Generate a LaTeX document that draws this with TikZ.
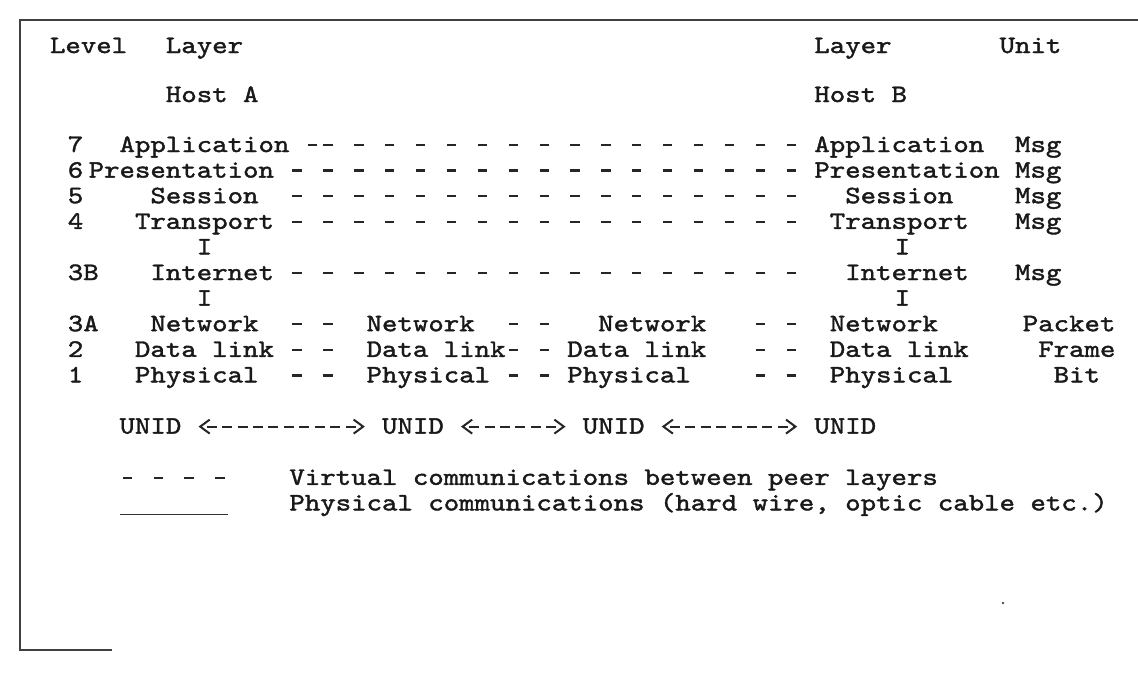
\documentclass[tikz,border=0pt]{standalone}
\usepackage{fontspec}
\usetikzlibrary{arrows.meta}
\newfontfamily\tw[FakeStretch=1.1764,FakeBold=1.6]{lmmono10-regular.otf}
\def\C#1{57.8+15.44*(#1)}
\begin{document}
\begin{tikzpicture}[x=1pt,y=-1pt,
  tt/.style={anchor=base west,inner sep=0pt,outer sep=0pt,text=black!90,font=\tw\fontsize{25pt}{25pt}\selectfont},
  vdash/.style={line width=2.4pt,draw=black!85,dash pattern=on 9.26pt off 21.62pt},
  ubarb/.tip={Straight Barb[length=9.5pt,width=14pt,line width=2pt]},
  uarrow/.style={line width=2pt,draw=black!85,dash pattern=on 10pt off 5.44pt,dash phase=10pt,{ubarb}-{ubarb},shorten <=17.2pt,shorten >=17.2pt},
  frame/.style={line width=1.5pt,draw=black!75}]
\useasboundingbox (0,0) rectangle (1138,673);
% frame
\draw[frame] (1138,20) -- (20,20) -- (20,650) -- (112,650);
\fill[black!70] (1003,603) circle (1.4pt);
% header
\node[tt] (lvl)   at (50,53) {Level};
\node[tt] (layA)  at ({\C{7}},53) {Layer};
\node[tt] (layB)  at ({\C{49}},53) {Layer};
\node[tt] (unit)  at ({\C{61}},53) {Unit};
\node[tt] (hostA) at ({\C{7}},102) {Host A};
\node[tt] (hostB) at ({\C{49}},102) {Host B};
% row 7
\node[tt] (n7) at ({\C{0.65}},152) {7};
\node[tt] (a7) at ({\C{4}},152) {Application};
\node[tt] (b7) at ({\C{49}},152) {Application};
\node[tt] (u7) at ({\C{62}},152) {Msg};
% row 6
\node[tt] (n6) at ({\C{0.65}},177.6) {6};
\node[tt] (a6) at ({\C{2}},177.6) {Presentation};
\node[tt] (b6) at ({\C{49}},177.6) {Presentation};
\node[tt] (u6) at ({\C{62}},177.6) {Msg};
% row 5
\node[tt] (n5) at ({\C{0.65}},203.2) {5};
\node[tt] (a5) at ({\C{6}},203.2) {Session};
\node[tt] (b5) at ({\C{51}},203.2) {Session};
\node[tt] (u5) at ({\C{62}},203.2) {Msg};
% row 4
\node[tt] (n4) at ({\C{0.65}},228.8) {4};
\node[tt] (a4) at ({\C{5}},228.8) {Transport};
\node[tt] (b4) at ({\C{50}},228.8) {Transport};
\node[tt] (u4) at ({\C{62}},228.8) {Msg};
% I
\node[tt] (iA1) at ({\C{9}},254.4) {I};
\node[tt] (iB1) at ({\C{54.2}},254.4) {I};
% row 3B
\node[tt] (n3b) at ({\C{0.65}},280) {3B};
\node[tt] (a3b) at ({\C{6}},280) {Internet};
\node[tt] (b3b) at ({\C{51}},280) {Internet};
\node[tt] (u3b) at ({\C{62}},280) {Msg};
% I
\node[tt] (iA2) at ({\C{9}},305.6) {I};
\node[tt] (iB2) at ({\C{54.2}},305.6) {I};
% row 3A
\node[tt] (n3a) at ({\C{0.65}},331.2) {3A};
\node[tt] (a3a) at ({\C{6}},331.2) {Network};
\node[tt] (m3a) at ({\C{20}},331.2) {Network};
\node[tt] (k3a) at ({\C{35}},331.2) {Network};
\node[tt] (b3a) at ({\C{50}},331.2) {Network};
\node[tt] (u3a) at ({\C{62.5}},331.2) {Packet};
% row 2
\node[tt] (n2) at ({\C{0.65}},356.8) {2};
\node[tt] (a2) at ({\C{5}},356.8) {Data link};
\node[tt] (m2) at ({\C{20}},356.8) {Data link};
\node[tt] (k2) at ({\C{33}},356.8) {Data link};
\node[tt] (b2) at ({\C{50}},356.8) {Data link};
\node[tt] (u2) at ({\C{63.5}},356.8) {Frame};
% row 1
\node[tt] (n1) at ({\C{0.65}},382.4) {1};
\node[tt] (a1) at ({\C{5}},382.4) {Physical};
\node[tt] (m1) at ({\C{20}},382.4) {Physical};
\node[tt] (k1) at ({\C{33}},382.4) {Physical};
\node[tt] (b1) at ({\C{50}},382.4) {Physical};
\node[tt] (u1) at ({\C{64.5}},382.4) {Bit};
% UNID
\node[tt] (ua) at ({\C{4}},433.6) {UNID};
\node[tt] (ub) at ({\C{21}},433.6) {UNID};
\node[tt] (uc) at ({\C{34}},433.6) {UNID};
\node[tt] (ud) at ({\C{49}},433.6) {UNID};
% legend
\node[tt] (leg1) at ({\C{15}},484.8) {Virtual communications between peer layers};
\node[tt] (leg2) at ({\C{15}},510.4) {Physical communications (hard wire, optic cable etc.)};
% virtual connections between peer layers
\draw[vdash,shorten <=18.53pt] ([yshift=7pt]a7.base east) -- ([xshift=27.79pt,yshift=7pt]a7.base east);
\draw[vdash,shorten <=33.97pt,shorten >=18.53pt] ([yshift=7pt]a7.base east) -- ([yshift=7pt]b7.base west);
\draw[vdash,shorten <=18.53pt,shorten >=18.53pt] ([yshift=7pt]a6.base east) -- ([yshift=7pt]b6.base west);
\draw[vdash,shorten <=33.97pt,shorten >=49.41pt] ([yshift=7pt]a5.base east) -- ([yshift=7pt]b5.base west);
\draw[vdash,shorten <=18.53pt,shorten >=33.97pt] ([yshift=7pt]a4.base east) -- ([yshift=7pt]b4.base west);
\draw[vdash,shorten <=18.53pt,shorten >=49.41pt] ([yshift=7pt]a3b.base east) -- ([yshift=7pt]b3b.base west);
% row 3A
\draw[vdash,shorten <=33.97pt,shorten >=33.97pt] ([yshift=7pt]a3a.base east) -- ([yshift=7pt]m3a.base west);
\draw[vdash,shorten <=33.97pt,shorten >=49.41pt] ([yshift=7pt]m3a.base east) -- ([yshift=7pt]k3a.base west);
\draw[vdash,shorten <=49.41pt,shorten >=33.97pt] ([yshift=7pt]k3a.base east) -- ([yshift=7pt]b3a.base west);
% row 2
\draw[vdash,shorten <=18.53pt,shorten >=33.97pt] ([yshift=7pt]a2.base east) -- ([yshift=7pt]m2.base west);
\draw[vdash,shorten <=3.09pt,shorten >=18.53pt] ([yshift=7pt]m2.base east) -- ([yshift=7pt]k2.base west);
\draw[vdash,shorten <=49.41pt,shorten >=33.97pt] ([yshift=7pt]k2.base east) -- ([yshift=7pt]b2.base west);
% row 1
\draw[vdash,shorten <=33.97pt,shorten >=33.97pt] ([yshift=7pt]a1.base east) -- ([yshift=7pt]m1.base west);
\draw[vdash,shorten <=18.53pt,shorten >=18.53pt] ([yshift=7pt]m1.base east) -- ([yshift=7pt]k1.base west);
\draw[vdash,shorten <=64.85pt,shorten >=33.97pt] ([yshift=7pt]k1.base east) -- ([yshift=7pt]b1.base west);
% UNID links
\draw[uarrow] ([yshift=7pt]ua.base east) -- ([yshift=7pt]ub.base west);
\draw[uarrow] ([yshift=7pt]ub.base east) -- ([yshift=7pt]uc.base west);
\draw[uarrow] ([yshift=7pt]uc.base east) -- ([yshift=7pt]ud.base west);
% legend samples
\draw[vdash] ([xshift=-166.75pt,yshift=7pt]leg1.base west) -- ([xshift=-64.85pt,yshift=7pt]leg1.base west);
\draw[line width=1.6pt,draw=black!80] ([xshift=-169.84pt,yshift=-4pt]leg2.base west) -- ([xshift=-61.76pt,yshift=-4pt]leg2.base west);
\end{tikzpicture}
\end{document}
